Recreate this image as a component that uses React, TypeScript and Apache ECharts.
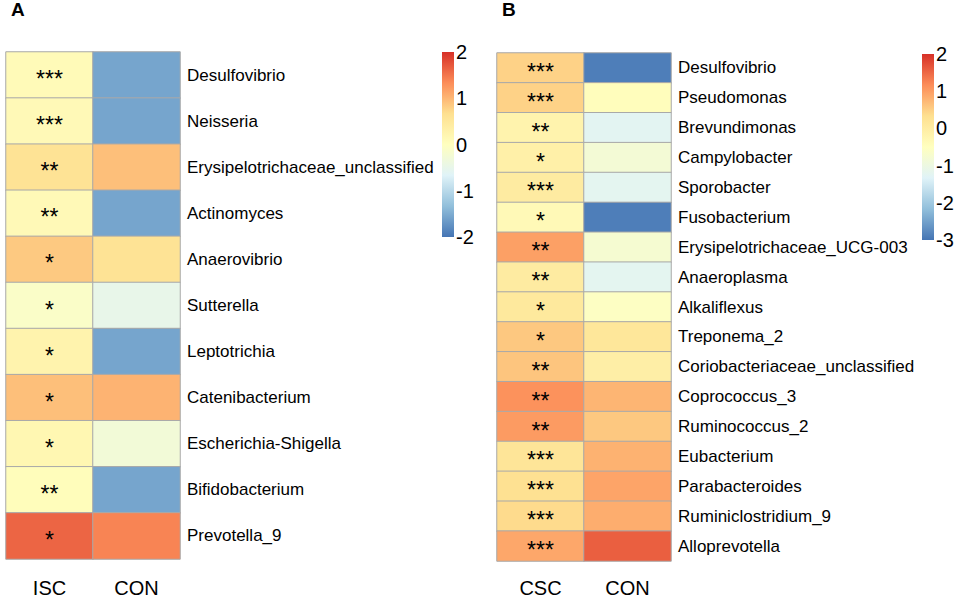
import React, { useEffect, useRef } from "react";
import * as echarts from "echarts";

// ---- Panel A data ----
const rowsA = [
  "Desulfovibrio",
  "Neisseria",
  "Erysipelotrichaceae_unclassified",
  "Actinomyces",
  "Anaerovibrio",
  "Sutterella",
  "Leptotrichia",
  "Catenibacterium",
  "Escherichia-Shigella",
  "Bifidobacterium",
  "Prevotella_9",
];
const colsA = ["ISC", "CON"];
const valuesA_ISC = [0.1, 0.12, 0.6, 0.12, 0.85, -0.1, 0.26, 0.93, 0.18, 0.05, 1.62];
const valuesA_CON = [-1.57, -1.57, 0.93, -1.57, 0.6, -0.49, -1.57, 1.03, -0.28, -1.57, 1.4];
const sigA = ["***", "***", "**", "**", "*", "*", "*", "*", "*", "**", "*"];
const rangeA = [-2, 2];

// ---- Panel B data ----
const rowsB = [
  "Desulfovibrio",
  "Pseudomonas",
  "Brevundimonas",
  "Campylobacter",
  "Sporobacter",
  "Fusobacterium",
  "Erysipelotrichaceae_UCG-003",
  "Anaeroplasma",
  "Alkaliflexus",
  "Treponema_2",
  "Coriobacteriaceae_unclassified",
  "Coprococcus_3",
  "Ruminococcus_2",
  "Eubacterium",
  "Parabacteroides",
  "Ruminiclostridium_9",
  "Alloprevotella",
];
const colsB = ["CSC", "CON"];
const valuesB_CSC = [0.47, 0.47, -0.18, -0.1, 0.04, -0.35, 0.98, 0.04, 0.1, 0.57, 0.6, 1.12, 1.03, 0.2, 0.3, 0.38, 0.91];
const valuesB_CON = [-2.9, -0.45, -1.25, -0.82, -1.22, -2.9, -0.77, -1.22, -0.56, 0.15, -0.05, 0.77, 0.57, 0.8, 0.94, 0.85, 1.58];
const sigB = ["***", "***", "**", "*", "***", "*", "**", "**", "*", "*", "**", "**", "**", "***", "***", "***", "***"];
const rangeB = [-3, 2];

// RdYlBu (7) reversed, low -> high
const palette = ["#4575B4", "#91BFDB", "#E0F3F8", "#FFFFBF", "#FEE090", "#FC8D59", "#D73027"];

const FONT = "Liberation Sans, Arial, Helvetica, sans-serif";

function toCells(a: number[], b: number[]) {
  const out: number[][] = [];
  a.forEach((v, i) => {
    out.push([0, i, v]);
    out.push([1, i, b[i]]);
  });
  return out;
}

function colorbarItem(params: any, api: any) {
  const cs = params.coordSys;
  const top = api.coord([0, api.value(2)]);
  const bottom = api.coord([0, api.value(1)]);
  const stops = palette
    .slice()
    .reverse()
    .map((c, i) => ({ offset: i / (palette.length - 1), color: c }));
  return {
    type: "rect",
    shape: { x: cs.x, y: top[1], width: cs.width, height: bottom[1] - top[1] },
    style: { fill: new echarts.graphic.LinearGradient(0, 0, 0, 1, stops) },
  };
}

export default function App() {
  const ref = useRef<HTMLDivElement>(null);
  useEffect(() => {
    if (!ref.current) return;
    const chart = echarts.init(ref.current, undefined, { renderer: "svg" });

    const cellLabel = (sig: string[]) => ({
      show: true,
      fontSize: 23,
      color: "#000",
      fontFamily: FONT,
      offset: [0, 4],
      formatter: (p: any) => (p.value[0] === 0 ? sig[p.value[1]] : ""),
    });

    const option: any = {
      animation: false,
      backgroundColor: "#fff",
      textStyle: { fontFamily: FONT },
      title: [
        { text: "A", left: 11, top: 0, padding: 0, textStyle: { fontSize: 19, fontWeight: "bold", color: "#000", fontFamily: FONT } },
        { text: "B", left: 502, top: 0, padding: 0, textStyle: { fontSize: 19, fontWeight: "bold", color: "#000", fontFamily: FONT } },
      ],
      grid: [
        { left: 6, top: 52, width: 174, height: 507 },
        { left: 497, top: 53, width: 174, height: 508 },
        { left: 442, top: 52, width: 12, height: 185 },
        { left: 922, top: 54, width: 12, height: 186 },
      ],
      xAxis: [
        {
          type: "category", gridIndex: 0, data: colsA, position: "bottom",
          axisLine: { show: false }, axisTick: { show: false }, splitLine: { show: false },
          axisLabel: { fontSize: 20, color: "#000", margin: 19 },
        },
        {
          type: "category", gridIndex: 1, data: colsB, position: "bottom",
          axisLine: { show: false }, axisTick: { show: false }, splitLine: { show: false },
          axisLabel: { fontSize: 20, color: "#000", margin: 17 },
        },
        { type: "category", gridIndex: 2, data: [""], show: false },
        { type: "category", gridIndex: 3, data: [""], show: false },
      ],
      yAxis: [
        {
          type: "category", gridIndex: 0, data: rowsA, inverse: true, position: "right",
          axisLine: { show: false }, axisTick: { show: false }, splitLine: { show: false },
          axisLabel: { fontSize: 17, color: "#000", margin: 7 },
        },
        {
          type: "category", gridIndex: 1, data: rowsB, inverse: true, position: "right",
          axisLine: { show: false }, axisTick: { show: false }, splitLine: { show: false },
          axisLabel: { fontSize: 17, color: "#000", margin: 7 },
        },
        {
          type: "value", gridIndex: 2, min: rangeA[0], max: rangeA[1], interval: 1, position: "right",
          axisLine: { show: false }, axisTick: { show: false }, splitLine: { show: false },
          axisLabel: { fontSize: 20, color: "#000", margin: 2 },
        },
        {
          type: "value", gridIndex: 3, min: rangeB[0], max: rangeB[1], interval: 1, position: "right",
          axisLine: { show: false }, axisTick: { show: false }, splitLine: { show: false },
          axisLabel: { fontSize: 20, color: "#000", margin: 2 },
        },
      ],
      visualMap: [
        { type: "continuous", show: false, min: rangeA[0], max: rangeA[1], seriesIndex: 0, dimension: 2, inRange: { color: palette } },
        { type: "continuous", show: false, min: rangeB[0], max: rangeB[1], seriesIndex: 1, dimension: 2, inRange: { color: palette } },
      ],
      series: [
        {
          type: "heatmap", xAxisIndex: 0, yAxisIndex: 0,
          data: toCells(valuesA_ISC, valuesA_CON),
          itemStyle: { borderColor: "#a9a9a9", borderWidth: 1 },
          label: cellLabel(sigA),
          emphasis: { disabled: true },
        },
        {
          type: "heatmap", xAxisIndex: 1, yAxisIndex: 1,
          data: toCells(valuesB_CSC, valuesB_CON),
          itemStyle: { borderColor: "#a9a9a9", borderWidth: 1 },
          label: cellLabel(sigB),
          emphasis: { disabled: true },
        },
        {
          type: "custom", xAxisIndex: 2, yAxisIndex: 2,
          encode: { x: 0, y: [1, 2] },
          data: [[0, rangeA[0], rangeA[1]]],
          renderItem: colorbarItem,
          silent: true,
        },
        {
          type: "custom", xAxisIndex: 3, yAxisIndex: 3,
          encode: { x: 0, y: [1, 2] },
          data: [[0, rangeB[0], rangeB[1]]],
          renderItem: colorbarItem,
          silent: true,
        },
      ],
    };
    chart.setOption(option);
    return () => chart.dispose();
  }, []);
  return (
    <div
      ref={ref}
      style={{ position: "fixed", left: 0, top: 0, width: 957, height: 600, background: "#fff" }}
    />
  );
}
